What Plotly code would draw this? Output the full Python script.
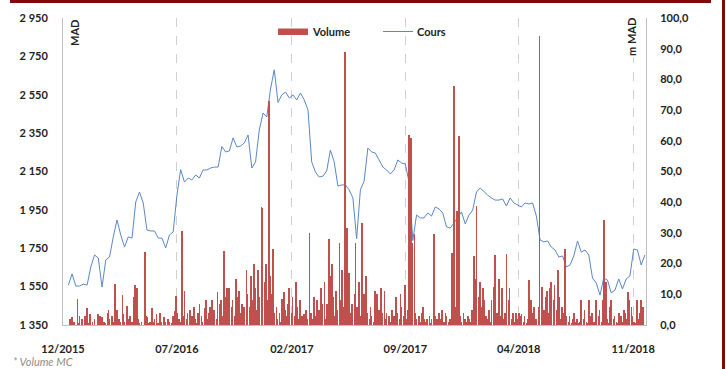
import pandas as pd
import plotly.graph_objects as go

# ---------------- data ----------------
price_start = "2015-12-11"          # weekly closing prices (MAD)
price_values = [
    1558, 1616, 1553, 1553, 1563, 1558, 1652, 1715, 1699, 1548,
    1689, 1704, 1809, 1897, 1819, 1756, 1809, 1803, 1991, 2043,
    1986, 1845, 1840, 1840, 1803, 1803, 1751, 1819, 1835, 2027,
    2160, 2095, 2116, 2106, 2132, 2116, 2158, 2158, 2168, 2173,
    2173, 2280, 2252, 2257, 2325, 2278, 2283, 2299, 2340, 2168,
    2200, 2366, 2455, 2434, 2580, 2680, 2510, 2549, 2564, 2533,
    2549, 2523, 2559, 2523, 2471, 2200, 2147, 2121, 2126, 2153,
    2262, 2200, 2074, 2080, 2080, 2054, 2012, 1800, 2054, 2100,
    2272, 2252, 2246, 2210, 2173, 2158, 2137, 2158, 2210, 2194,
    2189, 2095, 1790, 1923, 1908, 1908, 1934, 1918, 1965, 1955,
    1934, 1861, 1855, 1882, 1913, 1939, 1877, 1923, 1949, 2043,
    2064, 2043, 2027, 2012, 2001, 2001, 2007, 1970, 2012, 1986,
    1975, 1965, 1986, 1981, 1986, 1918, 1793, 1783, 1788, 1756,
    1741, 1704, 1710, 1652, 1663, 1710, 1788, 1730, 1741, 1715,
    1595, 1569, 1506, 1595, 1584, 1517, 1532, 1590, 1538, 1590,
    1606, 1746, 1741, 1663, 1715,
]

volume_start = "2015-12-14"         # volume every 2 trading days (m MAD)
volume_values = [
    2, 0, 2.5, 1, 0, 8.5, 0.5, 3, 2, 0, 3, 1, 5.5, 0.5, 3.5, 1, 0, 2, 0, 3.5,
    3, 0, 2.5, 1, 0.5, 4, 5, 2, 3, 1, 13.4, 3, 5, 2, 1, 9.8, 3.5, 1, 6.2, 2,
    3, 0.5, 1, 9, 13, 12, 2, 0.5, 1, 0, 23.8, 3, 2.5, 0.5, 1, 5.5, 1, 2, 3.5, 0.5,
    4, 1, 0, 2.5, 1, 0, 2, 1, 0.5, 3, 4.5, 9.4, 4, 2, 1, 30.6, 3, 11.2, 2, 4,
    5, 1, 3, 6, 2, 0.5, 4, 7, 3, 1, 5.5, 8, 2, 4, 6, 8, 3, 5, 2, 10.7,
    7, 8, 3, 24, 9, 12, 4, 12, 6, 8, 3, 15, 9, 11, 4, 7, 2, 6, 18, 10,
    6, 16, 8, 20, 12, 5, 18, 9, 38.5, 38, 14, 20, 8, 73, 16, 10, 24.7, 4, 5.9, 2,
    4, 1, 8.5, 10.7, 5, 3, 7, 12, 4, 9, 3, 14, 6, 2, 8, 3, 1, 3.5, 5, 2,
    30, 4, 2, 9, 3, 8, 1, 5, 12, 7, 14, 2, 7, 28, 16, 20, 9, 3, 11, 5,
    26.8, 8, 18, 6, 89, 31.6, 9, 17, 4, 7, 10, 26.7, 6, 14, 3, 33.3, 5, 10, 16, 4,
    2, 6, 3, 1, 11, 10, 2, 5, 12, 4, 11, 2, 4, 3, 1, 5, 2, 3, 9, 4,
    2, 10, 6, 3, 13, 2, 5, 62, 61, 26.7, 29.6, 4, 2, 3, 1, 4, 6, 2, 1, 2,
    3, 0.5, 2, 29.6, 3, 2, 1, 4, 2, 5, 1, 4, 3, 1, 2, 23.6, 4, 78, 6, 37,
    61.6, 3, 1, 4, 2, 1, 3, 2, 1, 5, 22.5, 15, 38.8, 9, 14, 6, 12, 8, 3, 2,
    5, 1, 8, 12.5, 22.8, 4, 2, 15, 3, 12, 2, 4, 23, 8, 12, 2, 4, 1, 4, 2,
    4, 3, 3.5, 1, 3, 0.5, 2, 14.7, 8, 4, 6, 1, 2, 6, 94, 12.5, 3, 5, 9, 11,
    4, 12, 14, 8, 13, 5, 18, 9, 2, 6, 4, 24.7, 3, 1, 3, 0.5, 2, 4, 1, 2,
    0.5, 1, 8, 2, 5, 1, 0.5, 8, 3, 4, 1, 0.5, 8, 3, 5, 1, 8, 34.2, 14, 2,
    0.5, 6, 8, 2, 3, 1, 0.5, 4, 3, 1, 5, 4, 2, 10.8, 8, 6, 3, 1, 0.5, 8,
    2, 4, 8, 6,
]

left_ticks = [1350, 1550, 1750, 1950, 2150, 2350, 2550, 2750, 2950]
left_labels = ["1 350", "1 550", "1 750", "1 950", "2 150", "2 350", "2 550", "2 750", "2 950"]
right_ticks = [0, 10, 20, 30, 40, 50, 60, 70, 80, 90, 100]
right_labels = ["0,0", "10,0", "20,0", "30,0", "40,0", "50,0", "60,0", "70,0", "80,0", "90,0", "100,0"]
date_ticks = ["2015-12-01", "2016-07-01", "2017-02-01", "2017-09-01", "2018-04-01", "2018-11-01"]
date_labels = ["12/2015", "07/2016", "02/2017", "09/2017", "04/2018", "11/2018"]

price_dates = pd.date_range(price_start, periods=len(price_values), freq="7D")
volume_dates = pd.date_range(volume_start, periods=len(volume_values), freq="2B")

# ---------------- style ----------------
RED = "#C0504D"
BLUE = "#5B87C5"
DARKRED = "#7F0A0A"
TXT = "#222222"
FONT = "Lato"
tickfont = dict(family=FONT, size=11, color=TXT, weight="bold")

fig = go.Figure()
fig.add_trace(go.Scatter(
    x=price_dates, y=price_values, mode="lines", name="Cours",
    line=dict(color=BLUE, width=1), yaxis="y"))
fig.add_trace(go.Bar(
    x=volume_dates, y=volume_values, name="Volume",
    marker=dict(color=RED, line=dict(width=0)),
    width=1.4 * 86400000, yaxis="y2"))

W, H = 726, 369
L, R, T, B = 63, 80, 18, 44
pw, ph = W - L - R, H - T - B


def px(xp):
    return (xp - L) / pw


def py(yp):
    return (H - B - yp) / ph


fig.update_layout(
    template="none",
    width=W, height=H,
    margin=dict(l=L, r=R, t=T, b=B, pad=0, autoexpand=False),
    paper_bgcolor="white", plot_bgcolor="white",
    showlegend=False, bargap=0,
    font=dict(family=FONT, size=11, color=TXT),
    xaxis=dict(
        type="date", range=["2015-12-01", "2018-11-25"], automargin=False,
        tickmode="array", tickvals=date_ticks, ticktext=date_labels,
        showgrid=True, gridcolor="#cfcfcf", griddash="dash", gridwidth=1,
        showline=True, linecolor="#bfbfbf", linewidth=1,
        ticks="outside", ticklen=14, tickcolor="rgba(0,0,0,0)",
        tickfont=tickfont, zeroline=False),
    yaxis=dict(
        range=[1350, 2950], automargin=False,
        tickmode="array", tickvals=left_ticks, ticktext=left_labels,
        showgrid=False, zeroline=False, showline=True, linecolor="#bfbfbf", linewidth=1,
        ticks="outside", ticklen=12, tickcolor="rgba(0,0,0,0)", tickfont=tickfont),
    yaxis2=dict(
        range=[0, 100], overlaying="y", side="right", automargin=False,
        tickmode="array", tickvals=right_ticks, ticktext=right_labels,
        showgrid=False, zeroline=False, showline=True, linecolor="#bfbfbf", linewidth=1,
        ticks="outside", ticklen=11, tickcolor="rgba(0,0,0,0)", tickfont=tickfont),
)

annots = [
    dict(text="MAD", x=px(74), y=py(18), xref="paper", yref="paper",
         xanchor="center", yanchor="top", textangle=-90, showarrow=False,
         font=dict(family=FONT, size=11, color=TXT, weight="bold")),
    dict(text="m MAD", x=px(631), y=py(16), xref="paper", yref="paper",
         xanchor="center", yanchor="top", textangle=-90, showarrow=False,
         bgcolor="white", font=dict(family=FONT, size=11, color=TXT, weight="bold")),
    dict(text="Volume", x=px(310), y=py(31.5), xref="paper", yref="paper",
         xanchor="left", yanchor="middle", showarrow=False,
         font=dict(family=FONT, size=11, color=TXT, weight="bold")),
    dict(text="Cours", x=px(415), y=py(31.5), xref="paper", yref="paper",
         xanchor="left", yanchor="middle", showarrow=False,
         font=dict(family=FONT, size=11, color=TXT, weight="bold")),
    dict(text="<i>* Volume MC</i>", x=px(11), y=py(361), xref="paper", yref="paper",
         xanchor="left", yanchor="middle", showarrow=False,
         font=dict(family=FONT, size=11, color="#8c8c8c")),
]
fig.update_layout(annotations=annots)

shapes = [
    # legend swatches
    dict(type="rect", xref="paper", yref="paper", x0=px(278), x1=px(308),
         y0=py(35), y1=py(28.5), fillcolor=RED, line=dict(width=0)),
    dict(type="line", xref="paper", yref="paper", x0=px(383), x1=px(413),
         y0=py(31.5), y1=py(31.5), line=dict(color=BLUE, width=1)),
    # frame
    dict(type="rect", xref="paper", yref="paper", x0=px(10), x1=px(711),
         y0=py(3), y1=py(0), fillcolor=DARKRED, line=dict(width=0)),
    dict(type="rect", xref="paper", yref="paper", x0=px(722), x1=px(725),
         y0=py(369), y1=py(0), fillcolor=DARKRED, line=dict(width=0)),
]
fig.update_layout(shapes=shapes)

fig.write_html(
    "out.html",
    config={"displayModeBar": False},
    post_script="document.body.style.margin='0';document.body.style.overflow='hidden';",
)
